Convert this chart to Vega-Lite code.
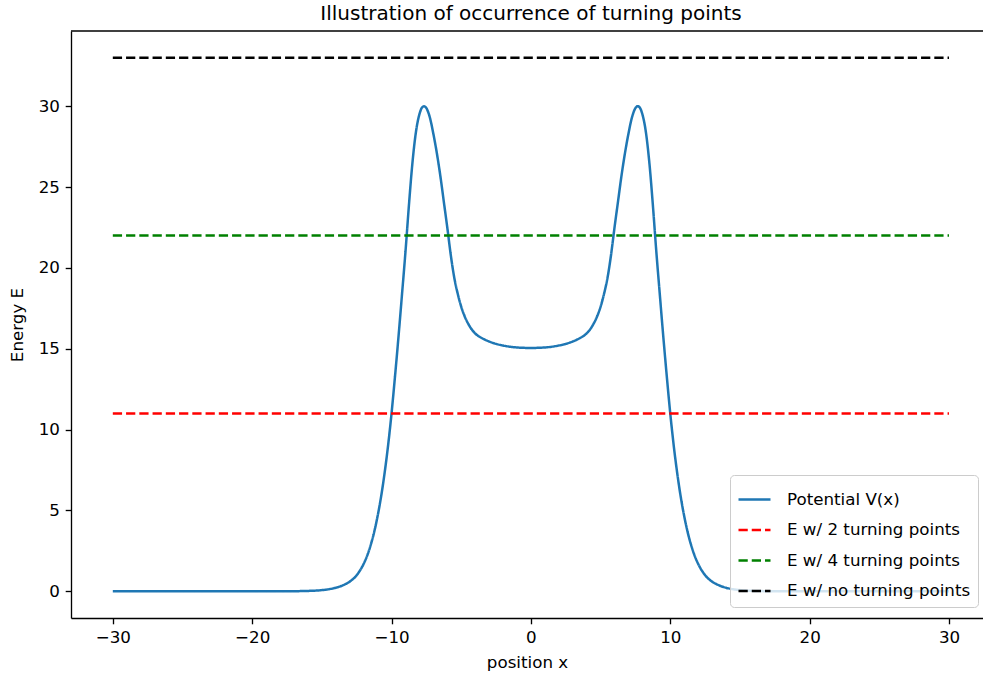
{
  "$schema": "https://vega.github.io/schema/vega-lite/v6.json",
  "width": 912,
  "height": 587,
  "autosize": "none",
  "padding": {"left": 71, "top": 31, "right": 0, "bottom": 59},
  "background": "white",
  "title": {"text": "Illustration of occurrence of turning points", "font": "DejaVu Sans", "fontSize": 20, "fontWeight": "normal", "color": "black", "anchor": "middle", "dx": 4, "dy": 20, "offset": 6, "baseline": "bottom"},
  "config": {
    "view": {"stroke": null},
    "axis": {"labelFont": "DejaVu Sans", "labelFontSize": 16.7, "labelColor": "black", "titleFont": "DejaVu Sans", "titleFontSize": 16.7, "titleFontWeight": "normal", "titleColor": "black", "domainColor": "black", "domainWidth": 1.33, "tickColor": "black", "tickWidth": 1.33, "tickSize": 5.8, "labelPadding": 5.8, "grid": false, "labelFlush": false, "labelOverlap": false},
    "legend": {"labelFont": "DejaVu Sans", "labelFontSize": 16.7, "labelColor": "black", "labelLimit": 400}
  },
  "layer": [
    {
      "data": {"values": [
        {"x": -30, "y": 0, "s": "Potential V(x)"},
        {"x": -25, "y": 0, "s": "Potential V(x)"},
        {"x": -20, "y": 0, "s": "Potential V(x)"},
        {"x": -18, "y": 0.002, "s": "Potential V(x)"},
        {"x": -17, "y": 0.008, "s": "Potential V(x)"},
        {"x": -16, "y": 0.025, "s": "Potential V(x)"},
        {"x": -15, "y": 0.075, "s": "Potential V(x)"},
        {"x": -14.5, "y": 0.13, "s": "Potential V(x)"},
        {"x": -14, "y": 0.22, "s": "Potential V(x)"},
        {"x": -13.5, "y": 0.37, "s": "Potential V(x)"},
        {"x": -13, "y": 0.6, "s": "Potential V(x)"},
        {"x": -12.5, "y": 1.0, "s": "Potential V(x)"},
        {"x": -12, "y": 1.7, "s": "Potential V(x)"},
        {"x": -11.75, "y": 2.2, "s": "Potential V(x)"},
        {"x": -11.5, "y": 2.85, "s": "Potential V(x)"},
        {"x": -11.25, "y": 3.65, "s": "Potential V(x)"},
        {"x": -11, "y": 4.65, "s": "Potential V(x)"},
        {"x": -10.75, "y": 5.85, "s": "Potential V(x)"},
        {"x": -10.5, "y": 7.3, "s": "Potential V(x)"},
        {"x": -10.25, "y": 9.0, "s": "Potential V(x)"},
        {"x": -10, "y": 11.0, "s": "Potential V(x)"},
        {"x": -9.75, "y": 13.3, "s": "Potential V(x)"},
        {"x": -9.5, "y": 15.75, "s": "Potential V(x)"},
        {"x": -9.25, "y": 18.35, "s": "Potential V(x)"},
        {"x": -9, "y": 21.0, "s": "Potential V(x)"},
        {"x": -8.75, "y": 23.9, "s": "Potential V(x)"},
        {"x": -8.5, "y": 26.5, "s": "Potential V(x)"},
        {"x": -8.25, "y": 28.4, "s": "Potential V(x)"},
        {"x": -8, "y": 29.5, "s": "Potential V(x)"},
        {"x": -7.8, "y": 29.93, "s": "Potential V(x)"},
        {"x": -7.66, "y": 30.0, "s": "Potential V(x)"},
        {"x": -7.5, "y": 29.88, "s": "Potential V(x)"},
        {"x": -7.25, "y": 29.3, "s": "Potential V(x)"},
        {"x": -7, "y": 28.3, "s": "Potential V(x)"},
        {"x": -6.75, "y": 27.1, "s": "Potential V(x)"},
        {"x": -6.5, "y": 25.7, "s": "Potential V(x)"},
        {"x": -6.25, "y": 24.1, "s": "Potential V(x)"},
        {"x": -6, "y": 22.5, "s": "Potential V(x)"},
        {"x": -5.75, "y": 20.8, "s": "Potential V(x)"},
        {"x": -5.5, "y": 19.4, "s": "Potential V(x)"},
        {"x": -5.25, "y": 18.4, "s": "Potential V(x)"},
        {"x": -5, "y": 17.6, "s": "Potential V(x)"},
        {"x": -4.75, "y": 17.0, "s": "Potential V(x)"},
        {"x": -4.5, "y": 16.55, "s": "Potential V(x)"},
        {"x": -4.25, "y": 16.2, "s": "Potential V(x)"},
        {"x": -4, "y": 15.95, "s": "Potential V(x)"},
        {"x": -3.5, "y": 15.65, "s": "Potential V(x)"},
        {"x": -3, "y": 15.45, "s": "Potential V(x)"},
        {"x": -2.5, "y": 15.3, "s": "Potential V(x)"},
        {"x": -2, "y": 15.2, "s": "Potential V(x)"},
        {"x": -1, "y": 15.08, "s": "Potential V(x)"},
        {"x": 0, "y": 15.05, "s": "Potential V(x)"},
        {"x": 1, "y": 15.08, "s": "Potential V(x)"},
        {"x": 2, "y": 15.2, "s": "Potential V(x)"},
        {"x": 2.5, "y": 15.3, "s": "Potential V(x)"},
        {"x": 3, "y": 15.45, "s": "Potential V(x)"},
        {"x": 3.5, "y": 15.65, "s": "Potential V(x)"},
        {"x": 4, "y": 15.95, "s": "Potential V(x)"},
        {"x": 4.25, "y": 16.2, "s": "Potential V(x)"},
        {"x": 4.5, "y": 16.55, "s": "Potential V(x)"},
        {"x": 4.75, "y": 17.0, "s": "Potential V(x)"},
        {"x": 5, "y": 17.6, "s": "Potential V(x)"},
        {"x": 5.25, "y": 18.4, "s": "Potential V(x)"},
        {"x": 5.5, "y": 19.4, "s": "Potential V(x)"},
        {"x": 5.75, "y": 20.8, "s": "Potential V(x)"},
        {"x": 6, "y": 22.5, "s": "Potential V(x)"},
        {"x": 6.25, "y": 24.1, "s": "Potential V(x)"},
        {"x": 6.5, "y": 25.7, "s": "Potential V(x)"},
        {"x": 6.75, "y": 27.1, "s": "Potential V(x)"},
        {"x": 7, "y": 28.3, "s": "Potential V(x)"},
        {"x": 7.25, "y": 29.3, "s": "Potential V(x)"},
        {"x": 7.5, "y": 29.88, "s": "Potential V(x)"},
        {"x": 7.66, "y": 30.0, "s": "Potential V(x)"},
        {"x": 7.8, "y": 29.93, "s": "Potential V(x)"},
        {"x": 8, "y": 29.5, "s": "Potential V(x)"},
        {"x": 8.25, "y": 28.4, "s": "Potential V(x)"},
        {"x": 8.5, "y": 26.5, "s": "Potential V(x)"},
        {"x": 8.75, "y": 23.9, "s": "Potential V(x)"},
        {"x": 9, "y": 21.0, "s": "Potential V(x)"},
        {"x": 9.25, "y": 18.35, "s": "Potential V(x)"},
        {"x": 9.5, "y": 15.75, "s": "Potential V(x)"},
        {"x": 9.75, "y": 13.3, "s": "Potential V(x)"},
        {"x": 10, "y": 11.0, "s": "Potential V(x)"},
        {"x": 10.25, "y": 9.0, "s": "Potential V(x)"},
        {"x": 10.5, "y": 7.3, "s": "Potential V(x)"},
        {"x": 10.75, "y": 5.85, "s": "Potential V(x)"},
        {"x": 11, "y": 4.65, "s": "Potential V(x)"},
        {"x": 11.25, "y": 3.65, "s": "Potential V(x)"},
        {"x": 11.5, "y": 2.85, "s": "Potential V(x)"},
        {"x": 11.75, "y": 2.2, "s": "Potential V(x)"},
        {"x": 12, "y": 1.7, "s": "Potential V(x)"},
        {"x": 12.5, "y": 1.0, "s": "Potential V(x)"},
        {"x": 13, "y": 0.6, "s": "Potential V(x)"},
        {"x": 13.5, "y": 0.37, "s": "Potential V(x)"},
        {"x": 14, "y": 0.22, "s": "Potential V(x)"},
        {"x": 14.5, "y": 0.13, "s": "Potential V(x)"},
        {"x": 15, "y": 0.075, "s": "Potential V(x)"},
        {"x": 16, "y": 0.025, "s": "Potential V(x)"},
        {"x": 17, "y": 0.008, "s": "Potential V(x)"},
        {"x": 18, "y": 0.002, "s": "Potential V(x)"},
        {"x": 20, "y": 0, "s": "Potential V(x)"},
        {"x": 25, "y": 0, "s": "Potential V(x)"},
        {"x": 30, "y": 0, "s": "Potential V(x)"},
        {"x": -30, "y": 11, "s": "E w/ 2 turning points"},
        {"x": 30, "y": 11, "s": "E w/ 2 turning points"},
        {"x": -30, "y": 22, "s": "E w/ 4 turning points"},
        {"x": 30, "y": 22, "s": "E w/ 4 turning points"},
        {"x": -30, "y": 33, "s": "E w/ no turning points"},
        {"x": 30, "y": 33, "s": "E w/ no turning points"}
      ]},
      "mark": {"type": "line", "strokeWidth": 2.5, "interpolate": "monotone", "clip": true},
      "encoding": {
        "x": {"field": "x", "type": "quantitative", "scale": {"domain": [-33, 32.44], "nice": false, "zero": false}, "axis": {"values": [-30, -20, -10, 0, 10, 20, 30], "title": "position x", "titlePadding": 8}},
        "y": {"field": "y", "type": "quantitative", "scale": {"domain": [-1.65, 34.65], "nice": false, "zero": false}, "axis": {"values": [0, 5, 10, 15, 20, 25, 30], "title": "Energy E", "titlePadding": 12}},
        "order": {"field": "x", "type": "quantitative"},
        "color": {"field": "s", "type": "nominal", "scale": {"domain": ["Potential V(x)", "E w/ 2 turning points", "E w/ 4 turning points", "E w/ no turning points"], "range": ["#1f77b4", "#ff0000", "#008000", "#000000"]}, "legend": {"title": null, "orient": "none", "legendX": 659, "legendY": 444, "symbolType": "stroke", "symbolSize": 1024, "symbolStrokeWidth": 2.5, "labelOffset": 15, "padding": 7, "rowPadding": 3.5, "strokeColor": "#cccccc", "fillColor": "rgba(255,255,255,0.8)", "cornerRadius": 4}},
        "strokeDash": {"field": "s", "type": "nominal", "scale": {"domain": ["Potential V(x)", "E w/ 2 turning points", "E w/ 4 turning points", "E w/ no turning points"], "range": [[1, 0], [9.25, 4], [9.25, 4], [9.25, 4]]}, "legend": {"title": null, "orient": "none", "legendX": 659, "legendY": 444, "symbolType": "stroke", "symbolSize": 1024, "symbolStrokeWidth": 2.5, "labelOffset": 15, "padding": 7, "rowPadding": 3.5, "strokeColor": "#cccccc", "fillColor": "rgba(255,255,255,0.8)", "cornerRadius": 4}}
      }
    },
    {
      "data": {"values": [{"top": 34.65}]},
      "mark": {"type": "rule", "color": "black", "strokeWidth": 1.33},
      "encoding": {"y": {"field": "top", "type": "quantitative"}}
    }
  ]
}
